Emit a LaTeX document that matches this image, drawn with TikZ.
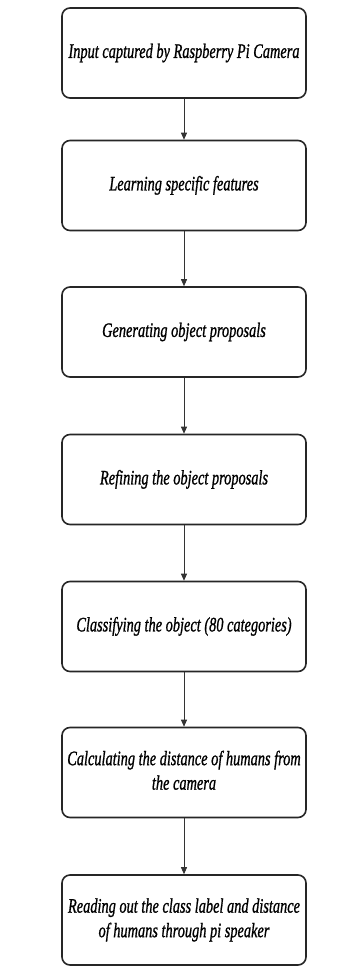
\documentclass[tikz,border=0pt]{standalone}
\usepackage{fontspec}
\usepackage{graphicx}
\setmainfont{Liberation Serif}
\newfontfamily\boxfont[FakeBold=1.2]{Liberation Serif}
\usetikzlibrary{arrows.meta}
\newcommand{\sqtext}[1]{\scalebox{0.7}[1]{\begin{tabular}{@{}c@{}}#1\end{tabular}}}
\tikzset{
  stepbox/.style={draw=black!85, line width=1.6pt, rounded corners=8pt, fill=white,
    minimum width=244pt, minimum height=90pt, inner sep=0pt,
    font=\boxfont\itshape\fontsize{20.5}{24.5}\selectfont},
  flow/.style={draw=black!80, line width=0.8pt, -{Triangle[width=6pt,length=7pt]}}
}
\begin{document}
\begin{tikzpicture}[x=1pt,y=-1pt]
\path[use as bounding box, fill=white] (0,0) rectangle (346,974);
\node[stepbox] (s1) at (184,53) {\sqtext{Input captured by Raspberry Pi Camera}};
\node[stepbox] (s2) at (184,185.5) {\sqtext{Learning specific features}};
\node[stepbox] (s3) at (184,332) {\sqtext{Generating object proposals}};
\node[stepbox] (s4) at (184,479.5) {\sqtext{Refining the object proposals}};
\node[stepbox] (s5) at (184,626.5) {\sqtext{Classifying the object (80 categories)}};
\node[stepbox] (s6) at (184,772.5) {\sqtext{Calculating the distance of humans from\\the camera}};
\node[stepbox] (s7) at (184,920) {\sqtext{Reading out the class label and distance\\of humans through pi speaker}};
\draw[flow] (s1) -- (s2);
\draw[flow] (s2) -- (s3);
\draw[flow] (s3) -- (s4);
\draw[flow] (s4) -- (s5);
\draw[flow] (s5) -- (s6);
\draw[flow] (s6) -- (s7);
\end{tikzpicture}
\end{document}
